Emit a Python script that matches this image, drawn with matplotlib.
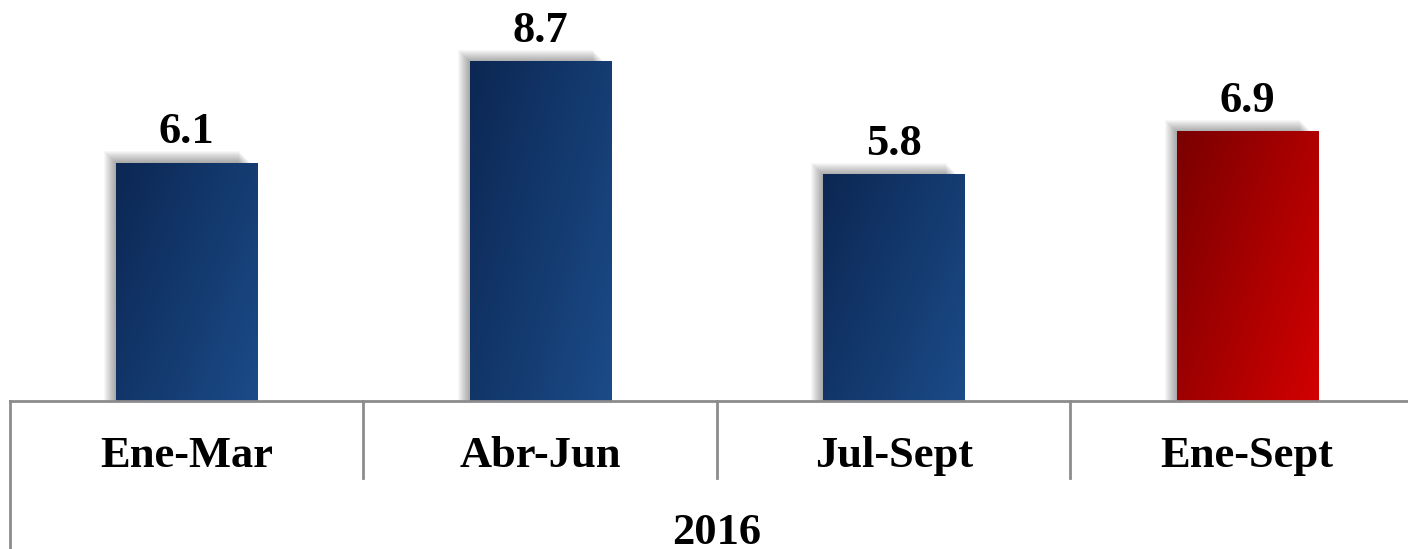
import matplotlib
matplotlib.use("Agg")
import matplotlib.pyplot as plt
import numpy as np
from matplotlib.colors import LinearSegmentedColormap
from matplotlib.patches import Rectangle

periods = ["Ene-Mar", "Abr-Jun", "Jul-Sept", "Ene-Sept"]
values = [6.1, 8.7, 5.8, 6.9]
year_label = "2016"

plt.rcParams['font.family'] = ['Liberation Serif', 'DejaVu Serif']
plt.rcParams['font.weight'] = 'bold'

blue = LinearSegmentedColormap.from_list("blue", ["#0c2753", "#1b4b88"])
red = LinearSegmentedColormap.from_list("red", ["#7a0000", "#d20000"])
cmaps = [blue, blue, blue, red]

fig = plt.figure(figsize=(14.08, 5.49), dpi=100)
ax = fig.add_axes([10 / 1408, 1 - 401 / 549, 4 * 353.5 / 1408, 401 / 549])
ax.set_xlim(-0.5, 3.5)
ax.set_ylim(0, 401 / 39)
ax.axis("off")

px_x = 1 / 353.5   # data units per pixel
px_y = 1 / 39
bar_w = 0.40

# diagonal gradient image: dark top-left, light bottom-right
u = np.linspace(0, 1, 60)
vv = np.linspace(0, 1, 200)
U, V = np.meshgrid(u, vv)
grad = (U * 0.6 + V * 0.4)

for i, (v, cm) in enumerate(zip(values, cmaps)):
    x0 = i - bar_w / 2
    # soft shadow up-left
    for d in range(1, 13):
        ax.add_patch(Rectangle((x0 - d * px_x, 0), bar_w - 6 * px_x, v + d * px_y,
                               facecolor="black", edgecolor="none", alpha=0.03, zorder=1))
    ax.imshow(grad, cmap=cm, extent=[x0, x0 + bar_w, 0, v], aspect="auto",
              origin="upper", zorder=2, interpolation="bilinear")
    ax.annotate(f"{v:.1f}", (i, v), xytext=(0, 14.4), textcoords="offset points",
                ha="center", va="baseline", fontsize=32, fontweight="bold", color="black")

# category axis
tr = ax.get_xaxis_transform()
ax.plot([-0.5, 3.5], [0, 0], color="#8c8c8c", lw=2, transform=tr, clip_on=False, zorder=3)
for xs in [0.5, 1.5, 2.5]:
    ax.plot([xs, xs], [0, -77 / 401], color="#8c8c8c", lw=2, transform=tr, clip_on=False)
ax.plot([-0.5, -0.5], [0, -148 / 401], color="#8c8c8c", lw=2, transform=tr, clip_on=False)
ax.plot([3.5, 3.5], [0, -148 / 401], color="#8c8c8c", lw=2, transform=tr, clip_on=False)

for i, p in enumerate(periods):
    ax.text(i, -66 / 401, p, transform=tr, ha="center", va="baseline",
            fontsize=32, fontweight="bold")
ax.text(1.5, -143 / 401, year_label, transform=tr, ha="center", va="baseline",
        fontsize=32, fontweight="bold")

fig.savefig("out.png", dpi=100)
